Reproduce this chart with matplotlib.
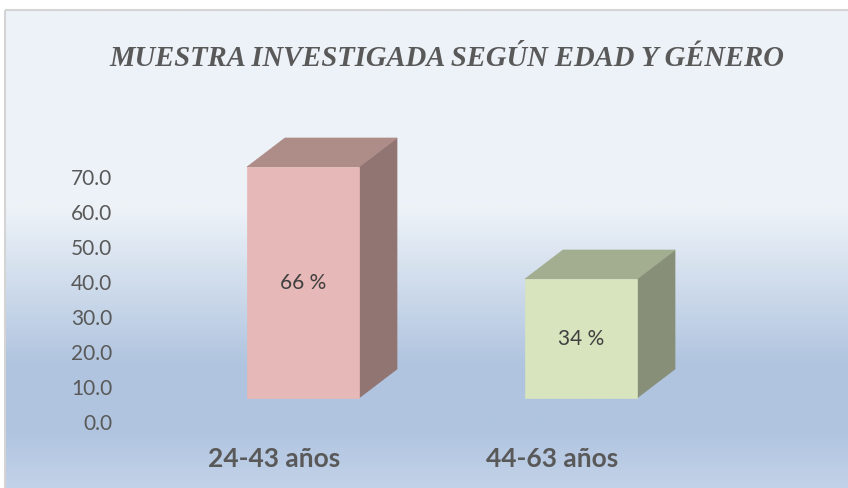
import numpy as np
import matplotlib
matplotlib.use("Agg")
import matplotlib.pyplot as plt
from matplotlib.colors import LinearSegmentedColormap
from matplotlib.patches import Polygon, Rectangle

# data
categorias = ["24-43 años", "44-63 años"]
valores = [66, 34]
etiquetas = ["66 %", "34 %"]
yticks = [0, 10, 20, 30, 40, 50, 60, 70]

col_front = ["#e6b8b7", "#d7e4bd"]
col_top = ["#ae8c88", "#a3ae90"]
col_side = ["#917572", "#878f78"]

W, H = 848, 489
fig = plt.figure(figsize=(W / 100, H / 100), dpi=100)
fig.patch.set_facecolor("white")

# background gradient inside the chart frame
bg = fig.add_axes([0, 0, 1, 1], zorder=0)
bg.set_xlim(0, W)
bg.set_ylim(H, 0)
bg.axis("off")
cmap = LinearSegmentedColormap.from_list(
    "grad",
    [(0.0, "#edf2f8"), (0.41, "#eef3f8"), (0.745, "#b0c4df"), (0.88, "#b0c4e0"), (1.0, "#c2d2e8")],
)
grad = np.linspace(0, 1, 300).reshape(-1, 1)
bg.imshow(grad, cmap=cmap, aspect="auto", extent=[5, W, H, 11], zorder=0)
bg.add_patch(Rectangle((5, 11), W, H, fill=False, edgecolor="#d4d4d4", lw=1.5, zorder=1))

# main axes: value 0 at y=422px, 70 at y=177px
left_px, right_px = 125, 800
ax = fig.add_axes([left_px / W, (H - 422) / H, (right_px - left_px) / W, 245 / H], zorder=2)
ax.set_facecolor("none")
x0_px, ux = 303, 278.0
ax.set_xlim((left_px - x0_px) / ux, (right_px - x0_px) / ux)
ax.set_ylim(0, 70)
for s in ax.spines.values():
    s.set_visible(False)
ax.set_yticks(yticks)
ax.set_yticklabels(["%.1f" % t for t in yticks], fontsize=15, color="#595959", family="Lato")
ax.tick_params(axis="y", length=0, pad=9)
ax.set_xticks([])

bw = 112 / ux
base = 23 / 3.5
dx, dy = 38 / ux, 29 / 3.5

for i, v in enumerate(valores):
    xl, xr = i - bw / 2, i + bw / 2
    y0, y1 = base, base + v
    front = Polygon([(xl, y0), (xr, y0), (xr, y1), (xl, y1)], closed=True,
                    facecolor=col_front[i], edgecolor=col_front[i], lw=0.5, clip_on=False, zorder=3)
    top = Polygon([(xl, y1), (xr, y1), (xr + dx, y1 + dy), (xl + dx, y1 + dy)], closed=True,
                  facecolor=col_top[i], edgecolor=col_top[i], lw=0.5, clip_on=False, zorder=3)
    side = Polygon([(xr, y0), (xr + dx, y0 + dy), (xr + dx, y1 + dy), (xr, y1)], closed=True,
                   facecolor=col_side[i], edgecolor=col_side[i], lw=0.5, clip_on=False, zorder=3)
    for p in (side, top, front):
        ax.add_patch(p)
    ax.text(i, base + v / 2, etiquetas[i], ha="center", va="center", fontsize=15,
            color="#404040", family="Lato", zorder=4)
    ax.text(i - 29 / ux, -10.5, categorias[i], ha="center", va="center", fontsize=19,
            fontweight="bold", color="#595959", family="Lato", clip_on=False)

fig.text(447 / W, 1 - 59 / H, "MUESTRA INVESTIGADA SEGÚN EDAD Y GÉNERO", ha="center", va="center",
         fontsize=20.6, fontstyle="italic", fontweight="bold", color="#595959",
         family="Liberation Serif", zorder=5)

fig.savefig("out.png", dpi=100)
